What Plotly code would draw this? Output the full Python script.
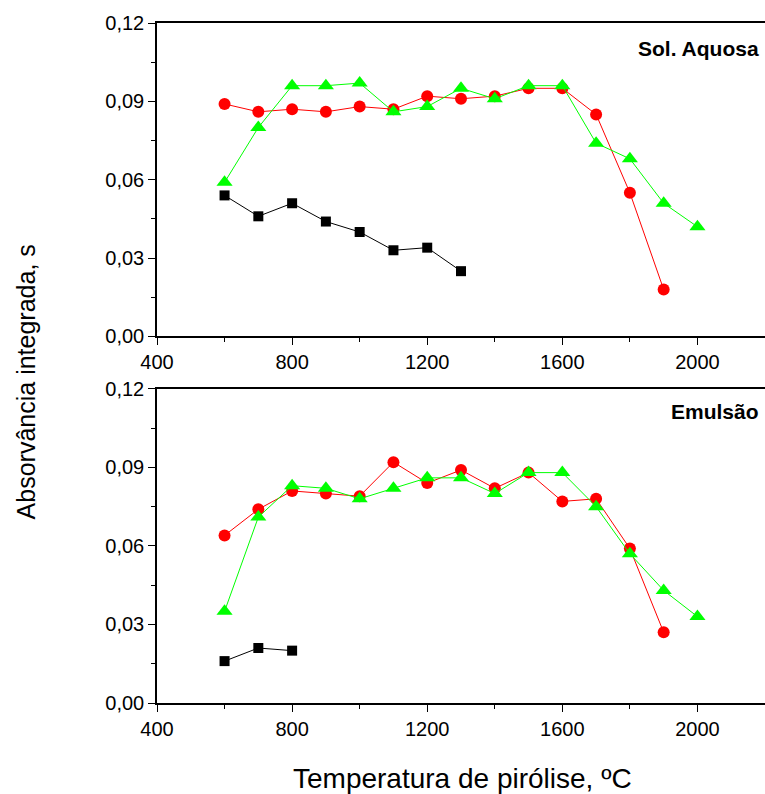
import plotly.graph_objects as go

# ---- data ----
temp_black_top = [600, 700, 800, 900, 1000, 1100, 1200, 1300]
abs_black_top = [0.054, 0.046, 0.051, 0.044, 0.040, 0.033, 0.034, 0.025]

temp_red_top = [600, 700, 800, 900, 1000, 1100, 1200, 1300, 1400, 1500, 1600, 1700, 1800, 1900]
abs_red_top = [0.089, 0.086, 0.087, 0.086, 0.088, 0.087, 0.092, 0.091, 0.092, 0.095, 0.095, 0.085, 0.055, 0.018]

temp_green_top = [600, 700, 800, 900, 1000, 1100, 1200, 1300, 1400, 1500, 1600, 1700, 1800, 1900, 2000]
abs_green_top = [0.059, 0.080, 0.096, 0.096, 0.097, 0.086, 0.088, 0.095, 0.091, 0.096, 0.096, 0.074, 0.068, 0.051, 0.042]

temp_black_bot = [600, 700, 800]
abs_black_bot = [0.016, 0.021, 0.020]

temp_red_bot = [600, 700, 800, 900, 1000, 1100, 1200, 1300, 1400, 1500, 1600, 1700, 1800, 1900]
abs_red_bot = [0.064, 0.074, 0.081, 0.080, 0.079, 0.092, 0.084, 0.089, 0.082, 0.088, 0.077, 0.078, 0.059, 0.027]

temp_green_bot = [600, 700, 800, 900, 1000, 1100, 1200, 1300, 1400, 1500, 1600, 1700, 1800, 1900, 2000]
abs_green_bot = [0.035, 0.071, 0.083, 0.082, 0.078, 0.082, 0.086, 0.086, 0.080, 0.088, 0.088, 0.075, 0.057, 0.043, 0.033]

x_tickvals = [400, 800, 1200, 1600, 2000]
x_ticktext = ["400", "800", "1200", "1600", "2000"]
y_tickvals = [0.0, 0.03, 0.06, 0.09, 0.12]
y_ticktext = ["0,00", "0,03", "0,06", "0,09", "0,12"]

panel_labels = ["Sol. Aquosa", "Emulsão"]
x_title = "Temperatura de pirólise, ºC"
y_title = "Absorvância integrada, s"

FONT = "Arial, Liberation Sans, sans-serif"

fig = go.Figure()

def add_series(x, y, color, symbol, size, xa, ya):
    fig.add_trace(go.Scatter(
        x=x, y=y, mode="lines+markers", xaxis=xa, yaxis=ya,
        line=dict(color=color, width=1),
        marker=dict(color=color, symbol=symbol, size=size, line=dict(width=0)),
        showlegend=False, cliponaxis=False))

# top panel (x2, y2)
add_series(temp_black_top, abs_black_top, "#000000", "square", 10, "x2", "y2")
add_series(temp_red_top, abs_red_top, "#ff0000", "circle", 12, "x2", "y2")
add_series(temp_green_top, abs_green_top, "#00ff00", "triangle-up", 14, "x2", "y2")
# bottom panel (x, y)
add_series(temp_black_bot, abs_black_bot, "#000000", "square", 10, "x", "y")
add_series(temp_red_bot, abs_red_bot, "#ff0000", "circle", 12, "x", "y")
add_series(temp_green_bot, abs_green_bot, "#00ff00", "triangle-up", 14, "x", "y")

xcommon = dict(range=[400, 2200], tickvals=x_tickvals, ticktext=x_ticktext,
               ticks="outside", ticklen=7, tickwidth=1.3, tickcolor="black",
               showline=True, linecolor="black", linewidth=1.5, mirror=True,
               showgrid=False, zeroline=False,
               tickfont=dict(family=FONT, size=20, color="black"),
               minor=dict(ticks="outside", ticklen=4, tickwidth=1.3, tickcolor="black",
                          dtick=200, tick0=400, showgrid=False))
ycommon = dict(range=[0, 0.12], tickvals=y_tickvals, ticktext=y_ticktext,
               ticks="outside", ticklen=7, tickwidth=1.3, tickcolor="black",
               showline=True, linecolor="black", linewidth=1.5, mirror=False,
               showgrid=False, zeroline=False,
               tickfont=dict(family=FONT, size=20, color="black"),
               minor=dict(ticks="outside", ticklen=4, tickwidth=1.3, tickcolor="black",
                          dtick=0.015, tick0=0, showgrid=False))

fig.update_layout(
    width=765, height=794,
    margin=dict(l=157, r=0, t=23, b=91),
    paper_bgcolor="white", plot_bgcolor="white",
    xaxis=dict(**xcommon, anchor="y", domain=[0, 1]),
    yaxis=dict(**ycommon, anchor="x", domain=[0, 0.462]),
    xaxis2=dict(**xcommon, anchor="y2", domain=[0, 1]),
    yaxis2=dict(**ycommon, anchor="x2", domain=[0.539, 1]),
    annotations=[
        dict(text="<b>" + panel_labels[0] + "</b>", xref="paper", yref="paper",
             x=0.9935, y=0.963, xanchor="right", yanchor="middle", showarrow=False,
             font=dict(family=FONT, size=21, color="black")),
        dict(text="<b>" + panel_labels[1] + "</b>", xref="paper", yref="paper",
             x=0.9935, y=0.428, xanchor="right", yanchor="middle", showarrow=False,
             font=dict(family=FONT, size=21, color="black")),
        dict(text=x_title, xref="paper", yref="paper", x=0.503, y=-0.111,
             xanchor="center", yanchor="middle", showarrow=False,
             font=dict(family=FONT, size=28, color="black")),
        dict(text=y_title, xref="paper", yref="paper", x=-0.214, y=0.4728,
             xanchor="center", yanchor="middle", showarrow=False, textangle=-90,
             font=dict(family=FONT, size=25, color="black")),
    ],
)

fig.write_html("out.html")
